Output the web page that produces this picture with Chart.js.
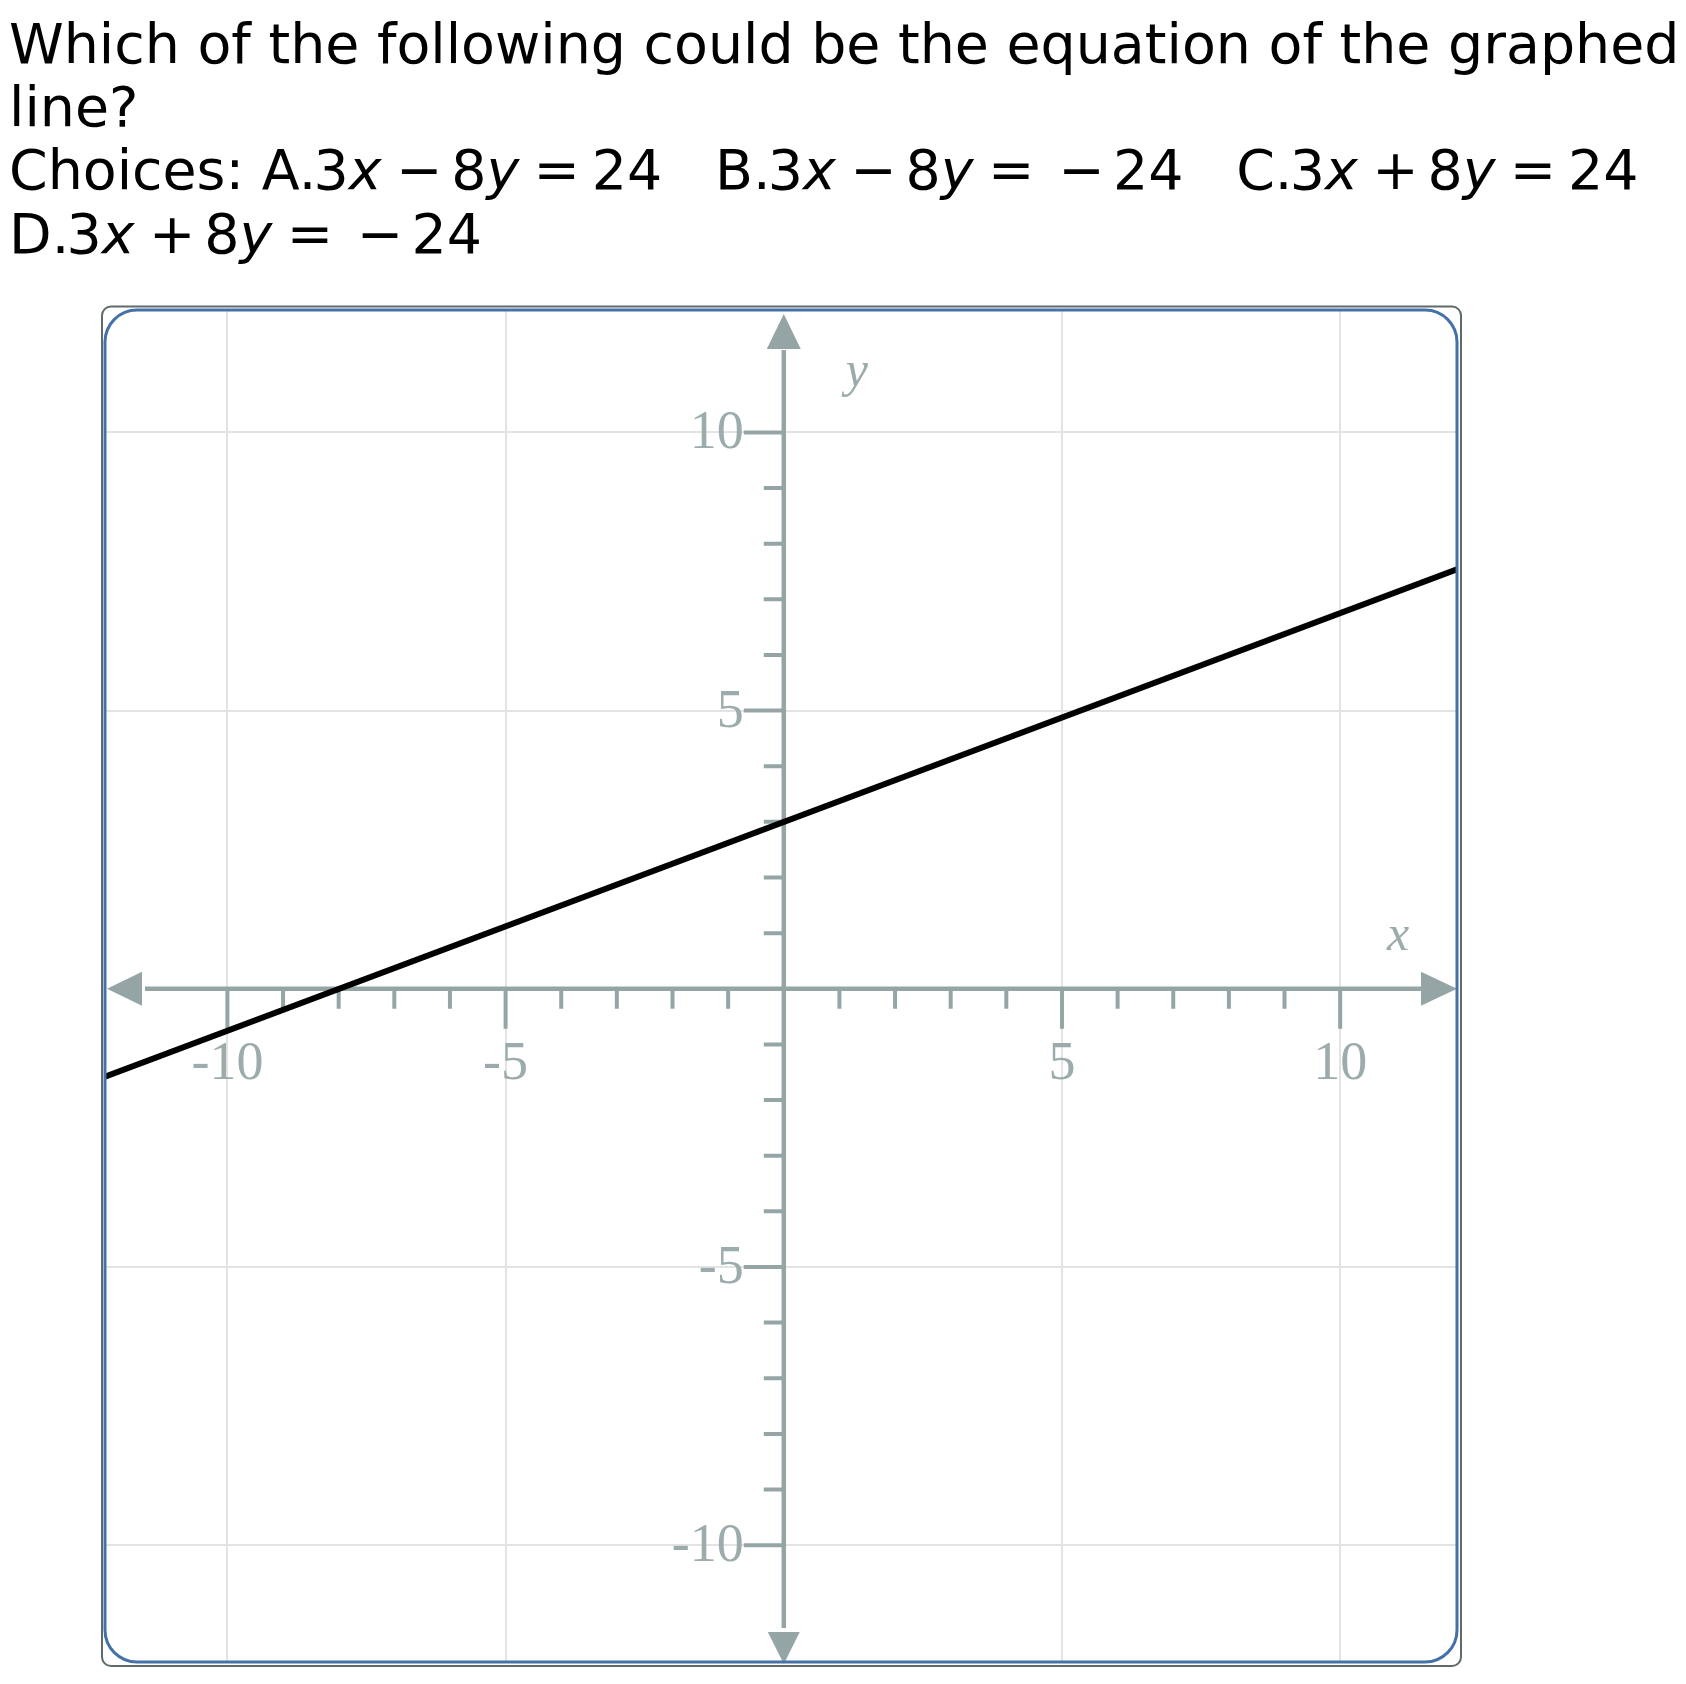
<!DOCTYPE html>
<html>
<head>
<meta charset="utf-8">
<script src="https://cdn.jsdelivr.net/npm/chart.js"></script>
<style>
  html, body { margin: 0; padding: 0; background: #fff; }
  body { width: 1686px; height: 1684px; position: relative; overflow: hidden; }
  #wrap { position: absolute; left: 0; top: 0; }
  #pergunta {
    position: absolute; left: 9px; top: 13px;
    font-family: "DejaVu Sans"; font-size: 55.4px; line-height: 63.2px;
    white-space: pre; color: #000;
  }
  #pergunta i { font-style: oblique; }
  .eq { margin-left: -0.05em; }
  .bin { margin: 0 0.16em 0 0.26em; }
  .rel { margin: 0 0.21em 0 0.26em; }
  .neg { margin: 0 0.15em 0 0.22em; }
</style>
</head>
<body>
<div id="wrap"><canvas id="grafico" width="1686" height="1684"></canvas></div>
<div id="pergunta">Which of the following could be the equation of the graphed
line?
Choices: A.<span class="eq">3</span><i>x</i><span class="bin">−</span>8<i>y</i><span class="rel">=</span>24   B.<span class="eq">3</span><i>x</i><span class="bin">−</span>8<i>y</i><span class="rel">=</span><span class="neg">−</span>24   C.<span class="eq">3</span><i>x</i><span class="bin">+</span>8<i>y</i><span class="rel">=</span>24
D.<span class="eq">3</span><i>x</i><span class="bin">+</span>8<i>y</i><span class="rel">=</span><span class="neg">−</span>24</div>
<script>
// reta do gráfico (pontos nas bordas da área)
const linhaX = [-12.2, 12.1];
const linhaY = [-1.58, 7.54];

// limites dos eixos
const limitesX = [-12.2, 12.1];
const limitesY = [-12.1, 12.2];

// linhas de grade e rótulos
const gradeX = [-10, -5, 5, 10];
const gradeY = [-10, -5, 5, 10];
const rotulosX = ['-10', '-5', '5', '10'];
const rotulosY = ['-10', '-5', '5', '10'];

// marcas nos eixos
const marcasX = [-10, -9, -8, -7, -6, -5, -4, -3, -2, -1, 1, 2, 3, 4, 5, 6, 7, 8, 9, 10];
const marcasY = [-10, -9, -8, -7, -6, -5, -4, -3, -2, -1, 1, 2, 3, 4, 5, 6, 7, 8, 9, 10];
const marcasMaiores = [-10, -5, 5, 10];

const corEixo = '#95a5a6';
const corRotulo = '#9cabab';

function seta(ctx, pontas) {
    ctx.beginPath();
    ctx.moveTo(pontas[0][0], pontas[0][1]);
    ctx.lineTo(pontas[1][0], pontas[1][1]);
    ctx.lineTo(pontas[2][0], pontas[2][1]);
    ctx.closePath();
    ctx.fill();
}

const eixos = {
    id: 'eixos',
    beforeDatasetsDraw(chart) {
        const { ctx, chartArea: a, scales: { x, y } } = chart;
        const x0 = x.getPixelForValue(0);
        const y0 = y.getPixelForValue(0);
        ctx.save();
        ctx.strokeStyle = corEixo;
        ctx.fillStyle = corEixo;
        ctx.lineWidth = 4.5;

        ctx.beginPath();
        ctx.moveTo(a.left + 40, y0);
        ctx.lineTo(a.right - 36, y0);
        ctx.moveTo(x0, a.top + 40);
        ctx.lineTo(x0, a.bottom - 34);
        ctx.stroke();

        seta(ctx, [[a.right, y0], [a.right - 36, y0 - 17], [a.right - 36, y0 + 17]]);
        seta(ctx, [[a.left + 2, y0], [a.left + 37, y0 - 17], [a.left + 37, y0 + 17]]);
        seta(ctx, [[x0, a.top + 4], [x0 - 17, a.top + 39], [x0 + 17, a.top + 39]]);
        seta(ctx, [[x0, a.bottom + 2], [x0 - 16, a.bottom - 30], [x0 + 16, a.bottom - 30]]);

        ctx.lineWidth = 4;
        ctx.beginPath();
        marcasX.forEach(v => {
            const px = x.getPixelForValue(v);
            const len = marcasMaiores.includes(v) ? 40 : 20;
            ctx.moveTo(px, y0);
            ctx.lineTo(px, y0 + len);
        });
        marcasY.forEach(v => {
            const py = y.getPixelForValue(v);
            const len = marcasMaiores.includes(v) ? 40 : 20;
            ctx.moveTo(x0, py);
            ctx.lineTo(x0 - len, py);
        });
        ctx.stroke();

        ctx.fillStyle = corRotulo;
        ctx.font = '54px "Liberation Serif"';
        ctx.textBaseline = 'alphabetic';
        ctx.textAlign = 'center';
        gradeX.forEach((v, i) => ctx.fillText(rotulosX[i], x.getPixelForValue(v), y0 + 90));
        ctx.textAlign = 'right';
        gradeY.forEach((v, i) => ctx.fillText(rotulosY[i], x0 - 40, y.getPixelForValue(v) + 16));

        ctx.font = 'italic 50px "Liberation Serif"';
        ctx.textAlign = 'center';
        ctx.fillText('x', a.right - 59, y0 - 39);
        ctx.fillText('y', x0 + 73, a.top + 76);
        ctx.restore();
    }
};

const moldura = {
    id: 'moldura',
    afterDraw(chart) {
        const { ctx, chartArea: a } = chart;
        ctx.save();
        ctx.strokeStyle = '#5f6b6b';
        ctx.lineWidth = 2;
        ctx.beginPath();
        ctx.roundRect(a.left - 3, a.top - 3.5, a.width + 7, a.height + 7.5, 9);
        ctx.stroke();
        ctx.strokeStyle = '#4472a8';
        ctx.lineWidth = 3;
        ctx.beginPath();
        ctx.roundRect(a.left, a.top, a.width, a.height, 32);
        ctx.stroke();
        ctx.restore();
    }
};

function opcoesEixo(limites, grade) {
    return {
        type: 'linear',
        min: limites[0],
        max: limites[1],
        afterBuildTicks: escala => { escala.ticks = grade.map(v => ({ value: v })); },
        ticks: { display: false },
        grid: { color: '#e3e3e3', lineWidth: 2, drawTicks: false },
        border: { display: false }
    };
}

new Chart(document.getElementById('grafico'), {
    type: 'line',
    data: {
        datasets: [{
            data: linhaX.map((v, i) => ({ x: v, y: linhaY[i] })),
            borderColor: '#000',
            borderWidth: 6,
            pointRadius: 0,
            fill: false,
            tension: 0
        }]
    },
    options: {
        responsive: false,
        animation: false,
        layout: {
            autoPadding: false,
            padding: { left: 105, top: 310, right: 229, bottom: 22 }
        },
        plugins: {
            legend: { display: false },
            tooltip: { enabled: false }
        },
        scales: {
            x: opcoesEixo(limitesX, gradeX),
            y: opcoesEixo(limitesY, gradeY)
        }
    },
    plugins: [eixos, moldura]
});
</script>
</body>
</html>
